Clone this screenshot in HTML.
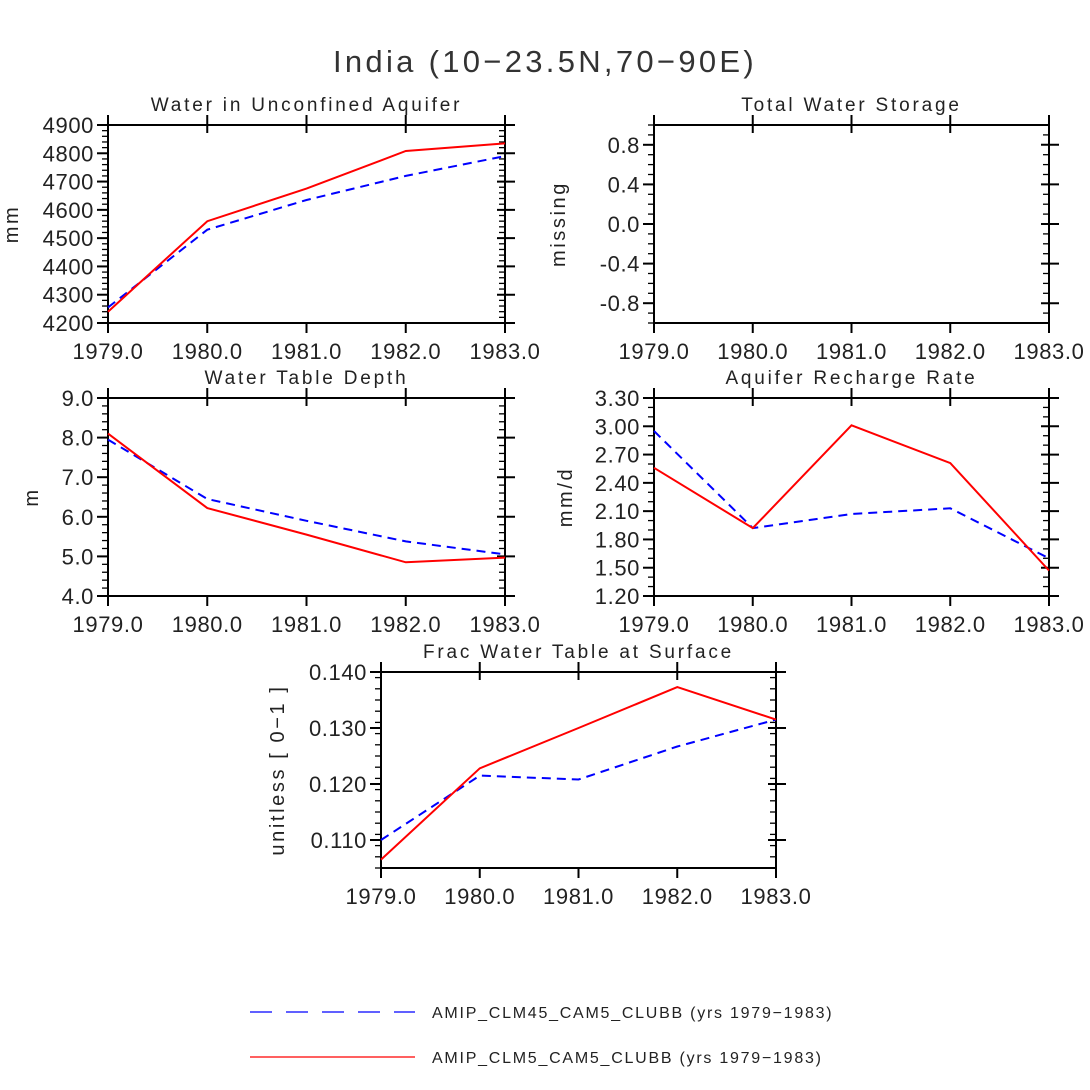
<!DOCTYPE html>
<html><head><meta charset="utf-8"><style>
html,body{margin:0;padding:0;background:#fff;}
svg{display:block;font-family:"Liberation Sans",sans-serif;}
</style></head><body>
<svg id="chart" width="1090" height="1090" viewBox="0 0 1090 1090" xmlns="http://www.w3.org/2000/svg">
<rect width="1090" height="1090" fill="#fff"/>
<text x="545" y="72" text-anchor="middle" font-size="31" letter-spacing="3.3" fill="#333">India (10−23.5N,70−90E)</text>
<g>
<line x1="250" y1="1012" x2="415" y2="1012" stroke="#0000ff" stroke-width="1.3" stroke-dasharray="22,14"/>
<text x="432" y="1018" font-size="16" letter-spacing="1.75" fill="#222">AMIP_CLM45_CAM5_CLUBB (yrs 1979−1983)</text>
<line x1="250" y1="1057" x2="415" y2="1057" stroke="#ff0000" stroke-width="1.3"/>
<text x="432" y="1063" font-size="16" letter-spacing="1.75" fill="#222">AMIP_CLM5_CAM5_CLUBB (yrs 1979−1983)</text>
</g>
</svg>
<script>
const years = [1979, 1980, 1981, 1982, 1983];
const xTickLabels = ["1979.0", "1980.0", "1981.0", "1982.0", "1983.0"];

const aquiferBlue = [4255, 4530, 4635, 4720, 4790];
const aquiferRed = [4240, 4560, 4675, 4808, 4835];
const aquiferTicks = [4200, 4300, 4400, 4500, 4600, 4700, 4800, 4900];
const aquiferTickLabels = ["4200","4300","4400","4500","4600","4700","4800","4900"];

const storageBlue = [];
const storageRed = [];
const storageTicks = [-0.8, -0.4, 0.0, 0.4, 0.8];
const storageTickLabels = ["-0.8","-0.4","0.0","0.4","0.8"];

const depthBlue = [7.95, 6.45, 5.9, 5.38, 5.05];
const depthRed = [8.1, 6.22, 5.55, 4.85, 4.97];
const depthTicks = [4, 5, 6, 7, 8, 9];
const depthTickLabels = ["4.0","5.0","6.0","7.0","8.0","9.0"];

const rechargeBlue = [2.95, 1.92, 2.07, 2.13, 1.6];
const rechargeRed = [2.56, 1.92, 3.01, 2.61, 1.47];
const rechargeTicks = [1.2, 1.5, 1.8, 2.1, 2.4, 2.7, 3.0, 3.3];
const rechargeTickLabels = ["1.20","1.50","1.80","2.10","2.40","2.70","3.00","3.30"];

const fracBlue = [0.110, 0.1215, 0.1208, 0.1267, 0.1315];
const fracRed = [0.1065, 0.1228, 0.1300, 0.1373, 0.1315];
const fracTicks = [0.110, 0.120, 0.130, 0.140];
const fracTickLabels = ["0.110","0.120","0.130","0.140"];

const NS = "http://www.w3.org/2000/svg";
const svg = document.getElementById("chart");
function mk(tag, attrs, parent){
  const e = document.createElementNS(NS, tag);
  for (const k in attrs) e.setAttribute(k, attrs[k]);
  (parent||svg).appendChild(e);
  return e;
}

function panel(cfg){
  const g = mk("g", {});
  
  
  const {x0,y0,w,h,ymin,ymax} = cfg;
  const xs = v => x0 + (v - years[0]) / (years[years.length-1] - years[0]) * w;
  const ys = v => y0 + h - (v - ymin) / (ymax - ymin) * h;
  const t = mk("text", {x: x0 + w/2, y: y0 - 14, "text-anchor":"middle", "font-size":"19", "letter-spacing":"2.8", fill:"#222"}, g);
  t.textContent = cfg.title;
  
  
  const yt = mk("text", {x: 0, y: 0, "text-anchor":"middle", "font-size":"20", "letter-spacing":"2.6", fill:"#222",
    transform:`translate(${cfg.ytx},${y0+h/2}) rotate(-90)`}, g);
  yt.textContent = cfg.ytitle;
  
  
  const step = cfg.ticks[1] - cfg.ticks[0];
  const mstep = step / (cfg.minor + 1);
  for (let v = ymin; v <= ymax + 1e-9; v += mstep) {
    const y = ys(v);
    const l1 = mk("line", {x1:x0-6, x2:x0, y1:y, y2:y, stroke:"#000", "stroke-width":"1.3"}, g);
    
    
    const l2 = mk("line", {x1:x0+w-6, x2:x0+w, y1:y, y2:y, stroke:"#000", "stroke-width":"1.3"}, g);
    
    
  }
  cfg.ticks.forEach((v,i) => {
    const y = ys(v);
    const l = mk("line", {x1:x0-11, x2:x0, y1:y, y2:y, stroke:"#000", "stroke-width":"2"}, g);
    
    
    const r = mk("line", {x1:x0+w-8, x2:x0+w+10, y1:y, y2:y, stroke:"#000", "stroke-width":"2"}, g);
    
    
    const tx = mk("text", {x:x0-14, y:y+8, "text-anchor":"end", "font-size":"22", "letter-spacing":"0.6", fill:"#222"}, g);
    tx.textContent = cfg.tickLabels[i];
    
    
  });
  years.forEach((v,i) => {
    const x = xs(v);
    const a = mk("line", {x1:x, x2:x, y1:y0+h, y2:y0+h+10, stroke:"#000", "stroke-width":"2"}, g);
    
    
    const b = mk("line", {x1:x, x2:x, y1:y0-10, y2:y0+8, stroke:"#000", "stroke-width":"2"}, g);
    
    
    const tx = mk("text", {x:x, y:y0+h+36, "text-anchor":"middle", "font-size":"22", "letter-spacing":"0.6", fill:"#222"}, g);
    tx.textContent = xTickLabels[i];
    
    
  });
  const fr = mk("rect", {x:x0, y:y0, width:w, height:h, fill:"none", stroke:"#000", "stroke-width":"2"}, g);
  
  
  const series = [[cfg.blue, "#0000ff", "9,6", "series-clm45"], [cfg.red, "#ff0000", "", "series-clm5"]];
  series.forEach(([vals, col, dash, nm]) => {
    if (!vals.length) return;
    const pts = vals.map((v,i) => xs(years[i]).toFixed(1) + "," + ys(v).toFixed(1)).join(" ");
    const pl = mk("polyline", {points:pts, fill:"none", stroke:col, "stroke-width":"2", "stroke-dasharray":dash||"none"}, g);
    
    
  });
}

panel({name:"panel-unconfined-aquifer", title:"Water in Unconfined Aquifer", ytitle:"mm", ytx:18,
  x0:108, y0:125, w:397, h:198, ymin:4200, ymax:4900, ticks:aquiferTicks, tickLabels:aquiferTickLabels, minor:4,
  blue:aquiferBlue, red:aquiferRed});
panel({name:"panel-total-water-storage", title:"Total Water Storage", ytitle:"missing", ytx:565,
  x0:654, y0:125, w:395, h:198, ymin:-1, ymax:1, ticks:storageTicks, tickLabels:storageTickLabels, minor:3,
  blue:storageBlue, red:storageRed});
panel({name:"panel-water-table-depth", title:"Water Table Depth", ytitle:"m", ytx:38,
  x0:108, y0:398, w:397, h:198, ymin:4, ymax:9, ticks:depthTicks, tickLabels:depthTickLabels, minor:4,
  blue:depthBlue, red:depthRed});
panel({name:"panel-aquifer-recharge", title:"Aquifer Recharge Rate", ytitle:"mm/d", ytx:572,
  x0:654, y0:398, w:395, h:198, ymin:1.2, ymax:3.3, ticks:rechargeTicks, tickLabels:rechargeTickLabels, minor:2,
  blue:rechargeBlue, red:rechargeRed});
panel({name:"panel-frac-water-table", title:"Frac Water Table at Surface", ytitle:"unitless [ 0−1 ]", ytx:284,
  x0:381, y0:672, w:395, h:196, ymin:0.105, ymax:0.140, ticks:fracTicks, tickLabels:fracTickLabels, minor:4,
  blue:fracBlue, red:fracRed});
</script>
</body></html>
